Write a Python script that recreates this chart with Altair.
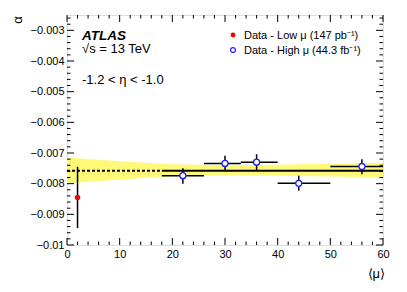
import altair as alt
import pandas as pd

# ---------------- data ----------------
low_mu_x = [2.0]
low_mu_y = [-0.00845]
low_mu_ylo = [-0.00945]
low_mu_yhi = [-0.00745]

high_mu_x = [22, 30, 36, 44, 56]
high_mu_xlo = [18, 26, 33, 40, 50]
high_mu_xhi = [26, 33, 40, 50, 60]
high_mu_y = [-0.00774, -0.00734, -0.00730, -0.00799, -0.00744]
high_mu_ylo = [-0.00800, -0.00758, -0.00757, -0.00823, -0.00769]
high_mu_yhi = [-0.00750, -0.00709, -0.00704, -0.00774, -0.00720]

band_x = [0, 10, 20, 30, 40, 50, 60]
band_lo = [-0.00799, -0.00787, -0.00775, -0.00773, -0.00774, -0.00777, -0.00780]
band_hi = [-0.00715, -0.00727, -0.00737, -0.00740, -0.00738, -0.00735, -0.00732]

fit_dotted_x = [0, 18]
fit_dotted_y = [-0.00758, -0.00758]
fit_solid_x = [18, 60]
fit_solid_y = [-0.00758, -0.00758]

x_major = [0, 10, 20, 30, 40, 50, 60]
x_minor = [2, 4, 6, 8, 12, 14, 16, 18, 22, 24, 26, 28, 32, 34, 36, 38,
           42, 44, 46, 48, 52, 54, 56, 58]
y_major = [-0.010, -0.009, -0.008, -0.007, -0.006, -0.005, -0.004, -0.003]
y_minor = [-0.0098, -0.0096, -0.0094, -0.0092, -0.0088, -0.0086, -0.0084, -0.0082,
           -0.0078, -0.0076, -0.0074, -0.0072, -0.0068, -0.0066, -0.0064, -0.0062,
           -0.0058, -0.0056, -0.0054, -0.0052, -0.0048, -0.0046, -0.0044, -0.0042,
           -0.0038, -0.0036, -0.0034, -0.0032, -0.0028, -0.0026]

legend_labels = ["Data - Low μ (147 pb⁻¹)", "Data - High μ (44.3 fb⁻¹)"]
atlas_label = "ATLAS"
energy_label = "√s = 13 TeV"
eta_label = "-1.2 < η < -1.0"
y_title = "α"
x_title = "⟨μ⟩"

# ---------------- layout ----------------
W, H = 316, 230
FONT = "Liberation Sans"

xs = alt.Scale(domain=[0, 60], nice=False, zero=False)
ys = alt.Scale(domain=[-0.01, -0.0025], nice=False, zero=False)
AX = alt.Axis(values=x_major, ticks=False, domain=False, grid=False, title=None,
              labelFont=FONT, labelFontSize=11, labelColor="black", labelPadding=3,
              labelFlush=False, labelOverlap=False)
AY = alt.Axis(values=y_major, ticks=False, domain=False, grid=False, title=None,
              format="~g", labelFont=FONT, labelFontSize=11, labelColor="black",
              labelPadding=3, labelFlush=False, labelOverlap=False)


def X(f="x"):
    return alt.X(f"{f}:Q", scale=xs, axis=AX)


def Y(f="y"):
    return alt.Y(f"{f}:Q", scale=ys, axis=AY)


band_df = pd.DataFrame({"x": band_x, "y": band_lo, "y2": band_hi})
band = alt.Chart(band_df).mark_area(color="#fff97a", opacity=1).encode(
    x=X(), y=Y(), y2="y2:Q")

dot_df = pd.DataFrame({"x": fit_dotted_x, "y": fit_dotted_y})
fit_dot = alt.Chart(dot_df).mark_line(color="black", strokeWidth=2, strokeDash=[3, 2]).encode(
    x=X(), y=Y())
sol_df = pd.DataFrame({"x": fit_solid_x, "y": fit_solid_y})
fit_sol = alt.Chart(sol_df).mark_line(color="black", strokeWidth=2).encode(x=X(), y=Y())

hi_df = pd.DataFrame({"x": high_mu_x, "xlo": high_mu_xlo, "xhi": high_mu_xhi,
                      "y": high_mu_y, "ylo": high_mu_ylo, "yhi": high_mu_yhi})
hi_h = alt.Chart(hi_df).mark_rule(color="black", strokeWidth=1.5).encode(
    x=X("xlo"), x2="xhi:Q", y=Y())
hi_v = alt.Chart(hi_df).mark_rule(color="black", strokeWidth=1.5).encode(
    x=X(), y=Y("ylo"), y2="yhi:Q")
hi_pt = alt.Chart(hi_df).mark_point(shape="circle", size=36, filled=False, fill="white",
                                    fillOpacity=1, stroke="#1f1fff", strokeWidth=1.3,
                                    opacity=1).encode(x=X(), y=Y())

lo_df = pd.DataFrame({"x": low_mu_x, "y": low_mu_y, "ylo": low_mu_ylo, "yhi": low_mu_yhi})
lo_v = alt.Chart(lo_df).mark_rule(color="black", strokeWidth=1.5).encode(
    x=X(), y=Y("ylo"), y2="yhi:Q")
lo_pt = alt.Chart(lo_df).mark_point(shape="circle", size=30, filled=True, color="#ff0000",
                                    opacity=1).encode(x=X(), y=Y())

# ticks (inward, on all four sides)
def xticks(vals, length):
    d = pd.DataFrame({"x": vals})
    b = alt.Chart(d).mark_rule(color="black", strokeWidth=1).encode(
        x=X(), y=alt.value(H), y2=alt.value(H - length))
    t = alt.Chart(d).mark_rule(color="black", strokeWidth=1).encode(
        x=X(), y=alt.value(0), y2=alt.value(length))
    return [b, t]


def yticks(vals, length):
    d = pd.DataFrame({"y": vals})
    l = alt.Chart(d).mark_rule(color="black", strokeWidth=1).encode(
        y=Y(), x=alt.value(0), x2=alt.value(length))
    r = alt.Chart(d).mark_rule(color="black", strokeWidth=1).encode(
        y=Y(), x=alt.value(W), x2=alt.value(W - length))
    return [l, r]


ticks = xticks(x_major, 7) + xticks(x_minor, 3.5) + yticks(y_major, 7) + yticks(y_minor, 3.5)


def label(text, x, y, size=13, **kw):
    d = pd.DataFrame({"t": [text]})
    return alt.Chart(d).mark_text(font=FONT, fontSize=size, color="black",
                                  align=kw.pop("align", "left"),
                                  baseline=kw.pop("baseline", "alphabetic"), **kw).encode(
        text="t:N", x=alt.value(x), y=alt.value(y))


texts = [
    label(atlas_label, 15, 24.5, 13.5, fontWeight="bold", fontStyle="italic"),
    label(energy_label, 15, 38, 13),
    label(eta_label, 15, 69, 13),
    label(legend_labels[0], 177, 24, 11),
    label(legend_labels[1], 177, 39, 11),
    label(y_title, -49, 5, 13, angle=270, align="center", baseline="middle"),
    label(x_title, 318, 259, 13, align="right", baseline="middle"),
]

leg_df = pd.DataFrame({"t": legend_labels[:1]})
leg_red = alt.Chart(leg_df).mark_point(shape="circle", size=24, filled=True, color="#ff0000",
                                       opacity=1).encode(x=alt.value(166), y=alt.value(20))
leg_df2 = pd.DataFrame({"t": legend_labels[1:]})
leg_blue = alt.Chart(leg_df2).mark_point(shape="circle", size=24, filled=False, fill="white",
                                         stroke="#1f1fff", strokeWidth=1.2, opacity=1).encode(
    x=alt.value(166), y=alt.value(35))

chart = alt.layer(
    band, fit_dot, fit_sol, hi_h, hi_v, lo_v, hi_pt, lo_pt, *ticks, *texts, leg_red, leg_blue
).properties(
    width=W, height=H, autosize="none",
    padding={"left": 59, "top": 7, "right": 14, "bottom": 39},
).configure_view(stroke="black", strokeWidth=1).configure(background="white")

chart.save("out.html", embed_options={"renderer": "svg", "actions": False})
